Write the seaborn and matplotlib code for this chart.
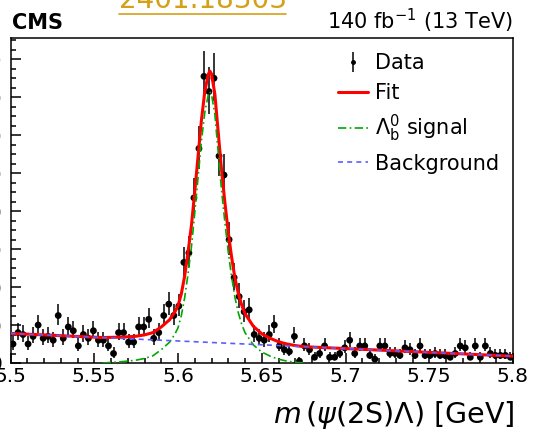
import numpy as np
import pandas as pd
import matplotlib
matplotlib.use("Agg")
import matplotlib.pyplot as plt
import seaborn as sns
from matplotlib.lines import Line2D
from matplotlib.legend_handler import HandlerTuple
from matplotlib.ticker import FixedLocator, MultipleLocator, FuncFormatter

# ---------------- data ----------------
mass_lo, mass_hi, n_bins = 5.5, 5.8, 100
counts = [10, 16, 15, 10, 14, 20, 13, 14, 12, 25,
          13, 19, 17, 9, 15, 13, 17, 12, 12, 9,
          5, 16, 16, 11, 11, 19, 19, 23, 13, 16,
          25, 31, 25, 30, 53, 58, 87, 113, 151, 143,
          150, 109, 99, 65, 45, 35, 27, 28, 15, 13,
          12, 15, 20, 9, 7, 6, 14, 1, 9, 7,
          3, 5, 9, 3, 3, 5, 8, 12, 5, 9,
          9, 4, 2, 9, 9, 5, 5, 4, 8, 7,
          4, 9, 4, 4, 5, 4, 4, 3, 5, 9,
          8, 3, 9, 3, 9, 5, 4, 4, 4, 3]

fit_mass = [5.500, 5.510, 5.520, 5.530, 5.540, 5.550, 5.555, 5.560, 5.565, 5.570,
            5.575, 5.580, 5.585, 5.590, 5.595, 5.598, 5.600, 5.602, 5.604, 5.606,
            5.608, 5.610, 5.612, 5.614, 5.616, 5.618, 5.619, 5.620, 5.622, 5.624,
            5.626, 5.628, 5.630, 5.632, 5.634, 5.636, 5.638, 5.640, 5.645, 5.650,
            5.655, 5.660, 5.665, 5.670, 5.675, 5.680, 5.700, 5.720, 5.740, 5.760,
            5.780, 5.800]
fit_vals = [15.6, 15.2, 14.8, 14.4, 14.0, 13.6, 13.4, 13.5, 13.6, 13.8,
            14.1, 14.8, 16.0, 19.0, 22.8, 26.7, 30.1, 36.5, 45.9, 58.4,
            72.3, 90.2, 109.1, 128.0, 143.0, 151.9, 153.8, 152.3, 141.7, 121.6,
            101.6, 84.5, 68.9, 55.8, 44.7, 36.7, 30.6, 26.0, 19.3, 15.4,
            13.0, 11.2, 10.0, 9.2, 8.6, 8.4, 7.6, 6.8, 6.0, 5.2,
            4.4, 3.6]

sig_mass = [5.555, 5.560, 5.565, 5.570, 5.575, 5.580, 5.585, 5.590, 5.595, 5.598,
            5.600, 5.602, 5.604, 5.606, 5.608, 5.610, 5.612, 5.614, 5.616, 5.618,
            5.619, 5.620, 5.622, 5.624, 5.626, 5.628, 5.630, 5.632, 5.634, 5.636,
            5.638, 5.640, 5.645, 5.650, 5.655, 5.660, 5.665, 5.670, 5.675]
sig_vals = [0.0, 0.3, 0.6, 1.0, 1.5, 2.4, 3.8, 7.0, 11.0, 15.0,
            18.5, 25.0, 34.5, 47.0, 61.0, 79.0, 98.0, 117.0, 132.0, 141.0,
            143.0, 141.5, 131.0, 111.0, 91.0, 74.0, 58.5, 45.5, 34.5, 26.5,
            20.5, 16.0, 9.5, 5.8, 3.6, 2.0, 1.0, 0.4, 0.0]

bkg_mass = [5.50, 5.55, 5.60, 5.65, 5.70, 5.75, 5.80]
bkg_vals = [15.6, 13.6, 11.6, 9.6, 7.6, 5.6, 3.6]

x_ticks = [5.5, 5.55, 5.6, 5.65, 5.7, 5.75, 5.8]
legend_labels = ["Data", "Fit", r"$\Lambda_{\mathrm{b}}^{0}$ signal", "Background"]

# ---------------- derived ----------------
edges = np.linspace(mass_lo, mass_hi, n_bins + 1)
centers = 0.5 * (edges[:-1] + edges[1:])
N = np.array(counts, dtype=float)
# approximate Poisson 68% intervals
with np.errstate(divide="ignore", invalid="ignore"):
    low = np.where(N > 0, N - N * (1 - 1 / (9 * N) - 1 / (3 * np.sqrt(N))) ** 3, 0.0)
high = (N + 1) * (1 - 1 / (9 * (N + 1)) + 1 / (3 * np.sqrt(N + 1))) ** 3 - N
df = pd.DataFrame({"mass": centers, "counts": N})

# ---------------- style ----------------
sns.set_theme(style="ticks")
plt.rcParams["font.family"] = ["DejaVu Sans"]
plt.rcParams["mathtext.fontset"] = "dejavusans"
for k in ("text.color", "axes.labelcolor", "xtick.color", "ytick.color",
          "axes.edgecolor"):
    plt.rcParams[k] = "black"

W, H = 534, 432
fig = plt.figure(figsize=(W / 100, H / 100), dpi=100)
L, R, T, B = 10.5, 513.0, 38.0, 363.0
ax = fig.add_axes([L / W, 1 - B / H, (R - L) / W, (B - T) / H])

ax.errorbar(df["mass"], df["counts"], yerr=[low, high], fmt="none",
            ecolor="black", elinewidth=1.1, capsize=0, zorder=2)
sns.scatterplot(data=df, x="mass", y="counts", ax=ax, color="black", s=24,
                edgecolor="none", linewidth=0, zorder=3, legend=False)
sns.lineplot(x=fit_mass, y=fit_vals, ax=ax, color="#ff0000", linewidth=2.2,
             sort=False, zorder=4, legend=False)
sns.lineplot(x=sig_mass, y=sig_vals, ax=ax, color="#00a800", linewidth=1.2,
             linestyle=(0, (5, 2, 1, 2)), sort=False, zorder=5, legend=False)
sns.lineplot(x=bkg_mass, y=bkg_vals, ax=ax, color="#5c5cff", linewidth=1.2,
             linestyle=(0, (3, 2.5)), sort=False, zorder=5, legend=False)

ax.set_xlim(mass_lo, mass_hi)
ax.set_ylim(0, 171.2)
ax.xaxis.set_major_locator(FixedLocator(x_ticks))
ax.xaxis.set_major_formatter(FuncFormatter(lambda v, p: f"{v:g}"))
ax.xaxis.set_minor_locator(MultipleLocator(0.01))
ax.yaxis.set_major_locator(MultipleLocator(20))
ax.yaxis.set_minor_locator(MultipleLocator(5))
ax.tick_params(which="both", direction="in", top=False, right=False,
               width=1.1, color="black", labelsize=14.5, labelcolor="black")
ax.tick_params(which="major", length=7.2)
ax.tick_params(which="minor", length=3.6)
ax.tick_params(axis="x", which="major", pad=3)
ax.tick_params(axis="y", which="major", pad=6)
for s in ax.spines.values():
    s.set_linewidth(1.1)
    s.set_color("black")
ax.set_ylabel("")
ax.set_xlabel(r"$m\,(\psi$(2S)$\Lambda$) [GeV]", fontsize=20.5, ha="right",
              color="black")
ax.xaxis.set_label_coords(1.003, -0.11)

h_data = (Line2D([], [], marker="|", markersize=14, markeredgewidth=1.1,
                 linestyle="none", color="black"),
          Line2D([], [], marker="o", markersize=2.5, linestyle="none", color="black"))
h_fit = Line2D([], [], color="#ff0000", linewidth=2.2)
h_sig = Line2D([], [], color="#00a800", linewidth=1.2, linestyle=(0, (5, 2, 1, 2)))
h_bkg = Line2D([], [], color="#5c5cff", linewidth=1.2, linestyle=(0, (3, 2.5)))
ax.legend([h_data, h_fit, h_sig, h_bkg], legend_labels,
          handler_map={tuple: HandlerTuple(ndivide=1)},
          loc="upper left", bbox_to_anchor=(338 / W, 1 - 53 / H),
          bbox_transform=fig.transFigure, frameon=False, fontsize=15,
          handlelength=1.45, handletextpad=0.33, labelspacing=0.47,
          borderpad=0, borderaxespad=0, labelcolor="black")

fig.text(12 / W, 1 - 29 / H, "CMS", fontweight="bold", fontsize=15, va="baseline")
fig.text(513 / W, 1 - 29 / H, r"140 fb$^{-1}$ (13 TeV)", ha="right",
         va="baseline", fontsize=15)
gold = "#d4a017"
fig.text(119 / W, 1 - 8.5 / H, "2401.18303", color=gold, fontsize=20, va="baseline")
fig.add_artist(Line2D([119 / W, 286 / W], [1 - 13.5 / H] * 2, color=gold,
                      linewidth=1.2, transform=fig.transFigure))

fig.savefig("out.png", dpi=100)
